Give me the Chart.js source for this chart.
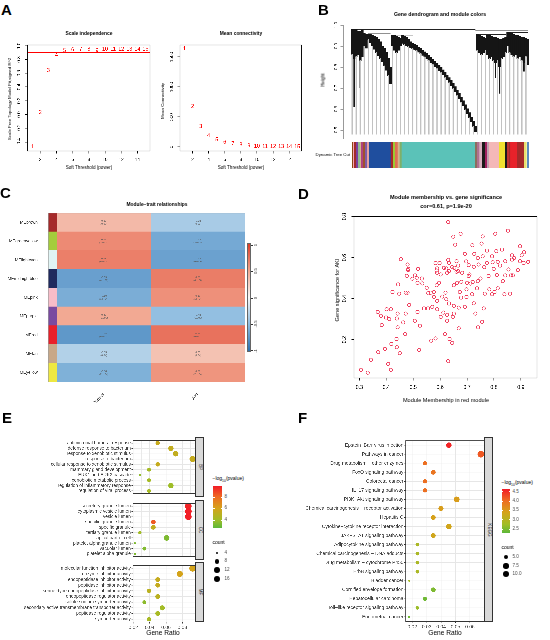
<!DOCTYPE html>
<html><head><meta charset="utf-8">
<script src="https://cdn.jsdelivr.net/npm/chart.js@4.4.1/dist/chart.umd.min.js"></script>
<style>
html,body{margin:0;padding:0;background:#fff}
body{width:550px;height:640px;position:relative;overflow:hidden;font-family:"Liberation Sans",Arial,Helvetica,sans-serif}
.t{position:absolute;white-space:nowrap;line-height:1.1;color:#000}
canvas{position:absolute}
.bx{position:absolute;box-sizing:border-box}
</style></head><body>
<script>
// ================= DATA =================
// ---- A: soft threshold ----
const powers=[1,2,3,4,5,6,7,8,9,10,11,12,13,14,15];
const scaleFreeR2=[-0.47,0.03,0.64,0.86,0.93,0.94,0.95,0.95,0.93,0.95,0.95,0.95,0.95,0.95,0.95];
const meanConnectivity=[1633,672,338,188,117,78,50,33,17,12,9,7,6,5,4];
const r2Cutoff=0.9;
const powerTicks=[2,4,6,8,10,12,14];
const r2Ticks=[-0.4,-0.2,0,0.2,0.4,0.6,0.8,1.0];
const kTicks=[0,500,1000,1500];
// ---- B: dendrogram (88 leaf columns) ----
const dendTop=[.98,.98,.98,.97,.97,.975,.96,.955,
.955,.955,.95,.945,.94,.93,.92,.90,.89,.87,.84,.80,
.952,.95,.945,.94,.935,
.95,.945,.94,.93,.92,.912,.907,.902,.895,.888,.88,.872,.864,.855,.846,.837,.827,.817,.807,.797,.786,.774,.762,.749,.735,.721,.706,.69,.674,.657,.639,.62,.601,.582,.562,.542,.517,
.955,.95,.945,.94,.935,.95,.95,.945,.94,.94,.935,.93,.93,.935,.94,
.965,.965,.96,.955,.95,.95,.945,.94,.94,.935,.93];
const dendLow=[.86,.84,.85,.86,.83,.85,.90,.89,
.93,.915,.90,.885,.87,.855,.84,.825,.805,.785,.76,.72,
.90,.88,.87,.88,.90,
.913,.908,.903,.898,.893,.888,.883,.878,.871,.864,.856,.848,.84,.831,.822,.813,.803,.793,.783,.773,.762,.75,.738,.725,.711,.697,.682,.666,.65,.633,.615,.596,.577,.558,.538,.518,.493,
.88,.87,.86,.87,.88,.86,.84,.85,.83,.82,.83,.80,.84,.85,.87,
.90,.87,.86,.85,.86,.84,.85,.83,.82,.85,.83];
const spikeCols=[1,4,22,68,71,73,85,87];
const spikeLow=[0.61,0.70,0.85,0.80,0.75,0.675,0.78,0.81];
const mergeFrom=[0,61,20,62,77,8];
const mergeTo=[61,87,30,76,87,19];
const mergeHeight=[0.978,0.972,0.952,0.955,0.965,0.958];
const hangBottom=0.48;
const heightTicks=[0.5,0.6,0.7,0.8,0.9,1.0];
const moduleBarColors=['#8b4513','#f4a6b4','#a52a2a','#7b3f9e','#8fbc8f','#d2b48c','#b0417f','#a0522d','#7f5ba6','#e8a0a0','#1f4e9e','#a52a2a','#9acd32','#e07050','#d2b48c','#7fb069','#5bc2b8','#8b6f5e','#b07090','#d8b0c0','#1a1a1a','#a02060','#c0a0b0','#f4b8b8','#f0e030','#1a1a1a','#c03030','#a52a2a','#e8222a','#a52a2a','#e8e070','#f0f0a0','#5b8bc0'];
const moduleBarSizes=[3,3,4,8,4,4,6,6,6,6,65,7,6,8,6,6,220,7,7,8,8,6,6,30,18,6,6,5,20,20,7,4,6];
// ---- C: module-trait heatmap ----
const modules=['MEbrown','MEgreenyellow','MElightcyan','MEmidnightblue','MEpink','MEpurple','MEred','MEtan','MEyellow'];
const moduleSwatch=['#a52a2a','#a4cc3c','#e0f4f4','#1f2a5e','#f7bcc8','#7a4aa0','#e8202a','#c8a888','#eee842'];
const traits=['Control','AKI'];
const corrControl=[0.38,0.63,0.68,-0.69,-0.6,0.48,-0.74,-0.33,-0.58];
const corrAKI=[-0.38,-0.63,-0.68,0.69,0.6,-0.48,0.74,0.33,0.58];
const pTrait=['0.02','3e−05','6e−06','4e−06','1e−04','0.003','6e−07','0.04','2e−04'];
// ---- D: MM vs GS ----
const mmRed=[0.630,0.676,0.649,0.758,0.805,0.852,0.656,0.720,0.754,0.897,0.774,0.809,0.830,0.912,0.727,0.740,0.793,0.867,0.875,0.903,0.927,0.910,0.758,0.454,0.583,0.598,0.630,0.661,0.697,0.633,0.479,0.482,0.518,0.589,0.614,0.645,0.667,0.706,0.725,0.743,0.764,0.774,0.795,0.814,0.842,0.897,0.867,0.799,0.823,0.854,0.889,0.870,0.842,0.811,0.780,0.750,0.740,0.721,0.706,0.682,0.661,0.626,0.589,0.602,0.623,0.476,0.507,0.513,0.532,0.534,0.497,0.444,0.472,0.448,0.423,0.550,0.565,0.577,0.587,0.596,0.651,0.663,0.679,0.698,0.700,0.713,0.673,0.678,0.698,0.719,0.737,0.766,0.783,0.793,0.802,0.814,0.833,0.839,0.860,0.577,0.589,0.608,0.620,0.623,0.633,0.651,0.651,0.626,0.612,0.647,0.669,0.692,0.725,0.762,0.731,0.741,0.756,0.669,0.626,0.602,0.589,0.555,0.540,0.571,0.516,0.506,0.525,0.485,0.472,0.463,0.442,0.439,0.417,0.368,0.401,0.399,0.411,0.380,0.383,0.442,0.470,0.583,0.567,0.618,0.635,0.645,0.630,0.438,0.419,0.439,0.450,0.522,0.395,0.370,0.343,0.407,0.417,0.306,0.331,
0.692,0.481,0.653,0.864,0.633,0.587,0.516,0.479,0.556,0.709,0.667];
const gsAKI=[0.773,0.716,0.702,0.703,0.716,0.731,0.663,0.660,0.668,0.655,0.634,0.631,0.639,0.626,0.618,0.598,0.606,0.611,0.598,0.611,0.579,0.574,0.606,0.592,0.573,0.573,0.589,0.582,0.581,0.574,0.566,0.545,0.545,0.547,0.550,0.553,0.561,0.563,0.555,0.566,0.553,0.574,0.577,0.579,0.582,0.582,0.590,0.545,0.561,0.542,0.539,0.513,0.513,0.515,0.510,0.498,0.485,0.481,0.510,0.526,0.531,0.526,0.526,0.518,0.547,0.511,0.513,0.502,0.498,0.474,0.497,0.469,0.429,0.424,0.432,0.453,0.429,0.432,0.465,0.477,0.465,0.477,0.482,0.445,0.477,0.473,0.432,0.405,0.408,0.421,0.450,0.424,0.445,0.421,0.432,0.450,0.485,0.421,0.424,0.408,0.389,0.410,0.429,0.397,0.376,0.365,0.327,0.321,0.332,0.311,0.356,0.360,0.377,0.352,0.327,0.260,0.287,0.255,0.292,0.311,0.348,0.352,0.352,0.360,0.335,0.292,0.268,0.369,0.327,0.284,0.327,0.303,0.348,0.335,0.348,0.308,0.300,0.316,0.271,0.260,0.227,0.206,0.195,0.227,0.203,0.184,0.095,0.203,0.179,0.163,0.134,0.150,0.155,0.139,0.102,0.082,0.053,0.053,0.039,
0.618,0.539,0.550,0.513,0.534,0.537,0.477,0.429,0.426,0.518,0.534];
const dXTicks=[0.3,0.4,0.5,0.6,0.7,0.8,0.9];
const dYTicks=[0.2,0.4,0.6,0.8];
// ---- E: GO enrichment ----
const eBPTerms=['antimicrobial humoral response','defense response to bacterium','response to xenobiotic stimulus','response to bacterium','cellular response to xenobiotic stimulus','mammary gland development','ERK1 and ERK2 cascade','xenobiotic metabolic process','regulation of inflammatory response','regulation of viral process'];
const eBPRatio=[0.0498,0.066,0.0718,0.0926,0.0498,0.0392,0.028,0.0392,0.066,0.0392];
const eBPCount=[7,10,11,14,7,6,4,6,10,6];
const eBPLogP=[5.5,5.3,5.3,5.4,5.4,4.2,3.7,4.2,4.0,4.2];
const eCCTerms=['secretory granule lumen','cytoplasmic vesicle lumen','vesicle lumen','specific granule lumen','specific granule','tertiary granule lumen','apical part of cell','platelet alpha granule lumen','vacuolar lumen','platelet alpha granule'];
const eCCRatio=[0.0873,0.0873,0.0873,0.0445,0.0445,0.028,0.0608,0.022,0.0335,0.022];
const eCCCount=[16,16,16,8,8,5,11,4,6,4];
const eCCLogP=[9.7,9.8,9.8,8.4,5.3,4.1,3.3,3.3,3.4,3.3];
const eMFTerms=['molecular function inhibitor activity','enzyme inhibitor activity','endopeptidase inhibitor activity','peptidase inhibitor activity','serine−type endopeptidase inhibitor activity','endopeptidase regulator activity','solute:sodium symporter activity','secondary active transmembrane transporter activity','peptidase regulator activity','symporter activity'];
const eMFRatio=[0.0926,0.077,0.0498,0.0498,0.0392,0.0498,0.0335,0.0555,0.0498,0.0392];
const eMFCount=[16,13,8,8,7,8,6,9,8,7];
const eMFLogP=[6.0,6.0,5.4,5.4,5.0,5.0,3.6,4.1,4.3,4.3];
const eGridTicks=[0.02,0.03,0.04,0.05,0.06,0.07,0.08,0.09];
const eTickLabels=['0.02','','0.04','','0.06','','0.08',''];
// ---- F: KEGG enrichment ----
const fTerms=['Epstein−Barr virus infection','Pathways in cancer','Drug metabolism − other enzymes','FoxO signaling pathway','Colorectal cancer','IL−17 signaling pathway','PI3K−Akt signaling pathway','Chemical carcinogenesis − receptor activation','Hepatitis C','Cytokine−cytokine receptor interaction','JAK−STAT signaling pathway','Adipocytokine signaling pathway','Chemical carcinogenesis − DNA adducts','Drug metabolism − cytochrome P450','ErbB signaling pathway','Bladder cancer','Cornified envelope formation','Hepatocellular carcinoma','Toll−like receptor signaling pathway','Endometrial cancer'];
const fRatio=[0.0454,0.0676,0.0288,0.0346,0.0288,0.0288,0.0508,0.0399,0.0346,0.0454,0.0346,0.0235,0.0235,0.0235,0.0235,0.0179,0.0346,0.0288,0.0235,0.0177];
const fCount=[8,12,5,6,5,5,9,7,6,8,6,4,4,4,4,3,6,5,4,3];
const fLogP=[4.56,4.16,3.97,3.9,3.97,3.97,3.45,3.45,3.4,3.33,3.3,2.86,2.86,2.86,2.86,2.8,2.5,2.4,2.7,2.4];
const fGridTicks=[0.02,0.025,0.03,0.035,0.04,0.045,0.05,0.055,0.06,0.065];
const fTickLabels=['0.02','','0.03','','0.04','','0.05','','0.06',''];

// ================= HELPERS =================
const FONT='"Liberation Sans", Arial, Helvetica, sans-serif';
Chart.defaults.font.family=FONT;
Chart.defaults.color='#000';
function hexRgb(h){return [parseInt(h.slice(1,3),16),parseInt(h.slice(3,5),16),parseInt(h.slice(5,7),16)];}
function ramp(stops,t){t=Math.max(0,Math.min(1,t));for(let i=1;i<stops.length;i++){if(t<=stops[i][0]){const [t0,c0]=stops[i-1],[t1,c1]=stops[i];const f=(t-t0)/(t1-t0);const a=hexRgb(c0),b=hexRgb(c1);return 'rgb('+a.map((v,k)=>Math.round(v+(b[k]-v)*f)).join(',')+')';}}return stops[stops.length-1][1];}
function cssGrad(stops,dir){return 'linear-gradient('+dir+','+stops.map(s=>s[1]+' '+(s[0]*100)+'%').join(',')+')';}
const heatStops=[[0,'#2a6fb0'],[0.25,'#8fbde0'],[0.5,'#f7f7f7'],[0.75,'#f2a68f'],[1,'#de3a26']];
const pStops=[[0,'#5cb83a'],[0.2,'#a2bd27'],[0.47,'#d5a31a'],[0.74,'#ee6b22'],[1,'#f21b27']];
const heatColor=c=>ramp(heatStops,(c+1)/2);
const eLo=2.6,eHi=9.9,fLo=2.27,fHi=4.63;
const eColor=v=>ramp(pStops,(v-eLo)/(eHi-eLo));
const fColor=v=>ramp(pStops,(v-fLo)/(fHi-fLo));
function dotR(c,cmin,cmax){return 0.53+0.47*(1+5*Math.sqrt(Math.max(0,(c-cmin)/(cmax-cmin))));}

function txt(s,x,y,o={}){
  const d=document.createElement('div');d.className='t';
  if(o.html) d.innerHTML=s; else d.textContent=s;
  d.style.left=x+'px';d.style.top=y+'px';d.style.fontSize=(o.size||5)+'px';
  if(o.bold) d.style.fontWeight='bold';
  if(o.color) d.style.color=o.color;
  const ax=o.align==='right'?'-100%':o.align==='left'?'0':'-50%';
  if(o.align==='right') d.style.transformOrigin='100% 50%';
  if(o.align==='left') d.style.transformOrigin='0 50%';
  d.style.transform='translate('+ax+',-50%)'+(o.rot?' rotate('+o.rot+'deg)':'');
  document.body.appendChild(d);return d;
}
function box(l,t,w,h,css){const d=document.createElement('div');d.className='bx';d.style.left=l+'px';d.style.top=t+'px';d.style.width=w+'px';d.style.height=h+'px';Object.assign(d.style,css||{});document.body.appendChild(d);return d;}

Chart.register({id:'frame',afterDraw(chart,args,opts){if(!opts||!opts.color)return;const {ctx,chartArea:a}=chart;ctx.save();ctx.strokeStyle=opts.color;ctx.lineWidth=opts.width||1;ctx.strokeRect(a.left,a.top,a.right-a.left,a.bottom-a.top);ctx.restore();}});
Chart.register({id:'dsText',afterDatasetsDraw(chart){
  const ctx=chart.ctx;
  chart.data.datasets.forEach((ds,di)=>{
    if(!ds.textLabels&&!ds.cellText)return;
    const meta=chart.getDatasetMeta(di);
    ctx.save();ctx.textAlign='center';ctx.textBaseline='middle';
    meta.data.forEach((el,i)=>{
      if(ds.textLabels){ctx.fillStyle=ds.textColor;ctx.font=ds.textFont;ctx.fillText(String(ds.textLabels[i]),el.x,el.y);}
      else{const cx=(el.x+el.base)/2;const lines=ds.cellText[i].split('\n');ctx.fillStyle='#555';ctx.font='2.6px '+FONT;
        lines.forEach((ln,k)=>ctx.fillText(ln,cx,el.y+(k-(lines.length-1)/2)*3));}
    });
    ctx.restore();
  });
}});

function mk(b,area,cfg){
  const cv=document.createElement('canvas');cv.width=b.w;cv.height=b.h;
  cv.style.left=b.l+'px';cv.style.top=b.t+'px';document.body.appendChild(cv);
  const o=cfg.options||(cfg.options={});
  o.responsive=false;o.animation=false;o.devicePixelRatio=3;
  o.plugins=Object.assign({legend:{display:false},tooltip:{enabled:false}},o.plugins||{});
  let hasL=false,hasB=false;
  for(const k in (o.scales||{})){
    const s=o.scales[k];if(s.display===false)continue;
    const pos=s.position||(k[0]==='x'?'bottom':'left');
    if(pos==='left'){hasL=true;s.afterFit=sc=>{sc.width=area.l-b.l;};}
    if(pos==='bottom'){hasB=true;s.afterFit=sc=>{sc.height=b.t+b.h-area.b;};}
  }
  o.layout={autoPadding:false,padding:{left:hasL?0:area.l-b.l,top:area.t-b.t,right:b.l+b.w-area.r,bottom:hasB?0:b.t+b.h-area.b}};
  return new Chart(cv,cfg);
}
function rAxis(min,max,ticks,fmt,o){
  return {type:'linear',min,max,
    afterBuildTicks:s=>{s.ticks=ticks.map(v=>({value:v}));},
    grid:{drawOnChartArea:false,drawTicks:true,tickLength:2.5,color:'#000',lineWidth:0.6},
    border:{display:!!o.border,color:'#000',width:0.6},
    ticks:{font:{size:o.size||4.6},color:'#000',padding:o.pad,
      minRotation:o.rot?90:0,maxRotation:o.rot?90:0,crossAlign:o.rot?'center':'near',
      callback:(v,i)=>fmt(ticks[i])}};
}

// ================= PANEL A =================
txt('A',1,10,{size:15,bold:true,align:'left'});
const ax0=0.44,ax1=15.56;
mk({l:0,t:28,w:156,h:150},{l:27.7,t:45,r:150,b:151},{type:'scatter',
  data:{datasets:[
    {data:powers.map((p,i)=>({x:p,y:scaleFreeR2[i]})),pointRadius:0,textLabels:powers,textColor:'#ff0000',textFont:'5.3px '+FONT},
    {type:'line',data:[{x:ax0,y:r2Cutoff},{x:ax1,y:r2Cutoff}],borderColor:'#ff0000',borderWidth:0.7,pointRadius:0}
  ]},
  options:{plugins:{frame:{color:'#000',width:0.7}},scales:{
    x:rAxis(ax0,ax1,powerTicks,v=>String(v),{pad:3.5}),
    y:rAxis(-0.53,1.01,r2Ticks,v=>v.toFixed(1),{pad:2.2,rot:true})}}});
mk({l:155,t:28,w:150,h:150},{l:180,t:45,r:301.7,b:151},{type:'scatter',
  data:{datasets:[{data:powers.map((p,i)=>({x:p,y:meanConnectivity[i]})),pointRadius:0,textLabels:powers,textColor:'#ff0000',textFont:'5.3px '+FONT}]},
  options:{plugins:{frame:{color:'#000',width:0.7}},scales:{
    x:rAxis(ax0,ax1,powerTicks,v=>String(v),{pad:3.5}),
    y:rAxis(-67,1700,kTicks,v=>String(v),{pad:0.5,rot:true})}}});
txt('Scale independence',89,34,{size:4.9,bold:true});
txt('Mean connectivity',241,34,{size:4.9,bold:true});
txt('Soft Threshold (power)',89,168.3,{size:4.6});
txt('Soft Threshold (power)',241,168.3,{size:4.6});
txt('Scale Free Topology Model Fit,signed R^2',10,99,{size:4.4,rot:-90});
txt('Mean Connectivity',162.5,101,{size:4.4,rot:-90});

// ================= PANEL B =================
txt('B',318,10,{size:15,bold:true,align:'left'});
txt('Gene dendrogram and module colors',440,15,{size:5.2,bold:true});
const padCols=4; // empty columns between the axis and the first leaf
const pad=new Array(padCols).fill(null);
const dendLabels=pad.map(()=>'').concat(dendLow.map((v,i)=>String(i)));
const barDs=(data,color,thick)=>Object.assign({type:'bar',data,backgroundColor:color,grouped:false,borderWidth:0,barPercentage:1,categoryPercentage:1},thick?{barThickness:thick}:{});
const dendDatasets=[
  barDs(pad.concat(dendLow.map((lo,i)=>i%2===0?[hangBottom,lo]:null)),'#c2c2c2',0.55),
  barDs(pad.concat(dendLow.map((lo,i)=>[lo,dendTop[i]])),'#151515',0),
  barDs(pad.concat(dendLow.map((lo,i)=>{const k=spikeCols.indexOf(i);return k>=0?[spikeLow[k],lo]:null;})),'#151515',0.7)
].concat(mergeFrom.map((a,k)=>({type:'line',data:pad.concat(dendLow.map((v,i)=>(i>=a&&i<=mergeTo[k])?mergeHeight[k]:null)),borderColor:'#222',borderWidth:0.7,pointRadius:0,spanGaps:false})));
mk({l:320,t:18,w:215,h:125},{l:343,t:25,r:529,b:138.4},{type:'bar',
  data:{labels:dendLabels,datasets:dendDatasets},
  options:{scales:{x:{type:'category',display:false},
    y:rAxis(0.46,1.0,heightTicks,v=>v.toFixed(1),{pad:1.2,rot:true,border:true,size:4.5})}}});
txt('Height',323,80,{size:4.6,rot:-90});
const barTotal=moduleBarSizes.reduce((a,b)=>a+b,0);
mk({l:352,t:142,w:177,h:26},{l:352,t:142,r:529,b:168},{type:'bar',
  data:{labels:[''],datasets:moduleBarColors.map((c,i)=>({data:[moduleBarSizes[i]],backgroundColor:c}))},
  options:{indexAxis:'y',datasets:{bar:{barPercentage:1,categoryPercentage:1,borderWidth:0}},plugins:{frame:{color:'#8a8a8a',width:0.5}},
    scales:{x:{display:false,stacked:true,min:0,max:barTotal},y:{display:false,stacked:true}}}});
txt('Dynamic Tree Cut',350,155,{size:4.3,align:'right'});

// ================= PANEL C =================
txt('C',0,192.5,{size:15,bold:true,align:'left'});
txt('Module−trait relationships',157,205,{size:4.9,bold:true});
const stripW=0.09;
mk({l:0,t:208,w:262,h:195},{l:48.3,t:213,r:245,b:382},{type:'bar',
  data:{labels:modules,datasets:[
    {data:modules.map(()=>stripW),backgroundColor:moduleSwatch},
    {data:modules.map(()=>1),backgroundColor:corrControl.map(heatColor),cellText:corrControl.map((c,i)=>c.toFixed(2)+'\n('+pTrait[i]+')')},
    {data:modules.map(()=>1),backgroundColor:corrAKI.map(heatColor),cellText:corrAKI.map((c,i)=>c.toFixed(2)+'\n('+pTrait[i]+')')}
  ]},
  options:{indexAxis:'y',datasets:{bar:{barPercentage:1,categoryPercentage:1,borderWidth:0}},plugins:{frame:{color:'#9a9a9a',width:0.5}},
    scales:{
      x:{type:'linear',stacked:true,min:0,max:stripW+2,
        afterBuildTicks:s=>{s.ticks=[stripW+0.5,stripW+1.5].map(v=>({value:v}));},
        grid:{display:false},border:{display:false},
        ticks:{font:{size:4.6},color:'#333',minRotation:45,maxRotation:45,padding:2,callback:(v,i)=>traits[i]}},
      y:{stacked:true,grid:{display:false},border:{display:false},ticks:{autoSkip:false,font:{size:4.2},color:'#333',padding:2.6}}}}});
box(246.7,243.3,4,108.4,{background:cssGrad(heatStops,'to top'),border:'0.4px solid #666'});
[1,0.5,0,-0.5,-1].forEach(v=>{const y=245+(1-v)/2*105.7;box(250.7,y-0.25,2,0.5,{background:'#333'});txt(String(v),255.5,y,{size:4.2,rot:-90,color:'#333'});});

// ================= PANEL D =================
txt('D',298,194,{size:15,bold:true,align:'left'});
txt('Module membership vs. gene significance',446,197,{size:5.6,bold:true});
txt('cor=0.61, p=1.9e-20',446,206,{size:5.6,bold:true});
mk({l:330,t:210,w:215,h:185},{l:354,t:215,r:537,b:378},{type:'scatter',
  data:{datasets:[{data:mmRed.map((x,i)=>({x,y:gsAKI[i]})),pointRadius:1.65,pointBorderWidth:0.7,pointBorderColor:'#ee3a5a',pointBackgroundColor:'rgba(0,0,0,0)'}]},
  options:{plugins:{frame:{color:'#000',width:0.7}},scales:{
    x:rAxis(0.28,0.96,dXTicks,v=>v.toFixed(1),{pad:4,size:5.2}),
    y:rAxis(0.013,0.8,dYTicks,v=>v.toFixed(1),{pad:3.4,rot:true,size:5.2})}}});
txt('Module Membership in red module',446,400,{size:5.6});
txt('Gene significance for  AKI',337,290,{size:5.6,rot:-90});

// ================= PANEL E =================
txt('E',2,417.5,{size:15,bold:true,align:'left'});
const eXmin=0.0196,eXmax=0.0955;
function eFacet(terms,ratio,count,logp,top,showX,strip){
  const h=60;const b={l:0,t:top,w:200,h:h+(showX?10:0)};
  mk(b,{l:133,t:top,r:195,b:top+h},{type:'scatter',
    data:{datasets:[{data:terms.map((l,i)=>({x:ratio[i],y:l})),pointRadius:count.map(c=>dotR(c,4,16)),pointBackgroundColor:logp.map(eColor),pointBorderWidth:0}]},
    options:{plugins:{frame:{color:'#333',width:0.6}},scales:{
      x:{type:'linear',min:eXmin,max:eXmax,afterBuildTicks:s=>{s.ticks=eGridTicks.map(v=>({value:v}));},
        grid:{color:'#e6e6e6',lineWidth:c=>(eTickLabels[c.index]?0.55:0.3),drawTicks:showX,tickLength:1.5,tickColor:c=>(eTickLabels[c.index]?'#333':'rgba(0,0,0,0)')},
        border:{display:false},
        ticks:{display:showX,font:{size:4.9},color:'#4d4d4d',padding:1.2,minRotation:0,maxRotation:0,callback:(v,i)=>eTickLabels[i]}},
      y:{type:'category',labels:terms,offset:true,grid:{color:'#e6e6e6',lineWidth:0.55,offset:false,tickLength:1.5,tickColor:'#333'},
        border:{display:false},ticks:{autoSkip:false,font:{size:4.6},color:'#404040',padding:0.7}}}}});
  box(195,top,9,h,{background:'#d9d9d9',border:'0.6px solid #333'});
  txt(strip,199.5,top+h/2,{size:4.6,rot:90,color:'#1a1a1a'});
}
eFacet(eBPTerms,eBPRatio,eBPCount,eBPLogP,437,false,'BP');
eFacet(eCCTerms,eCCRatio,eCCCount,eCCLogP,499.5,false,'CC');
eFacet(eMFTerms,eMFRatio,eMFCount,eMFLogP,562,true,'MF');
txt('Gene Ratio',163,633,{size:6.6});
txt('−log<sub style="font-size:3.4px">10</sub>(pvalue)',212.5,479.5,{size:5,align:'left',html:true});
box(213,486,9,42,{background:cssGrad(pStops,'to top')});
[8,6,4].forEach(v=>{const y=486+(eHi-v)/(eHi-eLo)*42;box(213,y-0.25,1.5,0.5,{background:'#fff'});box(220.5,y-0.25,1.5,0.5,{background:'#fff'});txt(String(v),224.5,y,{size:4.6,align:'left',color:'#4d4d4d'});});
txt('count',212.5,543,{size:5,align:'left'});
[4,8,12,16].forEach((c,i)=>{const y=[552.7,561.2,570,579][i];const r=dotR(c,4,16);box(217-r,y-r,2*r,2*r,{background:'#000',borderRadius:'50%'});txt(String(c),224.5,y,{size:4.6,align:'left',color:'#4d4d4d'});});

// ================= PANEL F =================
txt('F',298,417.5,{size:15,bold:true,align:'left'});
mk({l:290,t:437.3,w:200,h:194},{l:405.7,t:437.3,r:484.3,b:621.7},{type:'scatter',
  data:{datasets:[{data:fTerms.map((l,i)=>({x:fRatio[i],y:l})),pointRadius:fCount.map(c=>dotR(c,3,12)),pointBackgroundColor:fLogP.map(fColor),pointBorderWidth:0}]},
  options:{plugins:{frame:{color:'#333',width:0.6}},scales:{
    x:{type:'linear',min:0.01542,max:0.0700,afterBuildTicks:s=>{s.ticks=fGridTicks.map(v=>({value:v}));},
      grid:{color:'#e6e6e6',lineWidth:c=>(fTickLabels[c.index]?0.55:0.3),tickLength:1.5,tickColor:c=>(fTickLabels[c.index]?'#333':'rgba(0,0,0,0)')},
      border:{display:false},
      ticks:{font:{size:4.9},color:'#4d4d4d',padding:1.2,minRotation:0,maxRotation:0,callback:(v,i)=>fTickLabels[i]}},
    y:{type:'category',labels:fTerms,offset:true,grid:{color:'#e6e6e6',lineWidth:0.55,offset:false,tickLength:1.5,tickColor:'#333'},
      border:{display:false},ticks:{autoSkip:false,font:{size:4.8},color:'#404040',padding:0.8}}}}});
box(484.3,437.3,9,184.4,{background:'#d9d9d9',border:'0.6px solid #333'});
txt('KEGG',488.8,529.5,{size:4.6,rot:90,color:'#1a1a1a'});
txt('Gene Ratio',445,633,{size:6.6});
txt('−log<sub style="font-size:3.4px">10</sub>(pvalue)',501.5,484,{size:5,align:'left',html:true});
box(501.7,489.3,8.5,44,{background:cssGrad(pStops,'to top')});
[4.5,4.0,3.5,3.0,2.5].forEach(v=>{const y=489.3+(fHi-v)/(fHi-fLo)*44;box(501.7,y-0.25,1.4,0.5,{background:'#fff'});box(508.8,y-0.25,1.4,0.5,{background:'#fff'});txt(v.toFixed(1),512.5,y,{size:4.6,align:'left',color:'#4d4d4d'});});
txt('count',501.5,547.7,{size:5,align:'left'});
[5,7.5,10].forEach((c,i)=>{const y=[557.3,566,574.3][i];const r=dotR(c,3,12);box(506-r,y-r,2*r,2*r,{background:'#000',borderRadius:'50%'});txt(c.toFixed(1),512.5,y,{size:4.6,align:'left',color:'#4d4d4d'});});
</script>
</body></html>
